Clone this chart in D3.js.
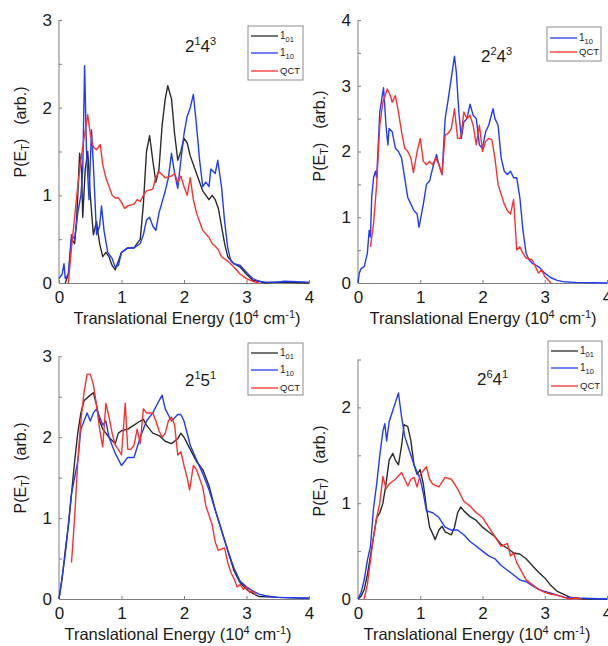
<!DOCTYPE html>
<html lang="en">
<head>
<meta charset="UTF-8">
<script src="https://d3js.org/d3.v7.min.js"></script>
<title>P(ET) spectra</title>
<style>
  body { margin: 0; background: #fff; }
  text { font-family: "Liberation Sans", Arial, Helvetica, sans-serif; fill: #1a1a1a; }
  .axis path, .axis line { stroke: #7f7f7f; }
</style>
</head>
<body>
<svg id="fig" width="608" height="646"></svg>
<script>
// ---- data: [E (10^4 cm-1), P(E)] ----
// panel 2^1 4^3
const a_101 = [[0.1,0],[0.15,0.1],[0.2,0.5],[0.25,0.45],[0.28,0.7],[0.3,1.0],[0.33,1.48],[0.36,1.3],[0.38,0.75],[0.42,1.3],[0.46,1.5],[0.5,1.0],[0.55,0.55],[0.6,0.7],[0.65,0.45],[0.7,0.3],[0.75,0.35],[0.8,0.3],[0.85,0.2],[0.9,0.15],[0.95,0.25],[1.0,0.35],[1.1,0.4],[1.2,0.4],[1.3,0.5],[1.35,0.9],[1.4,1.5],[1.45,1.68],[1.5,1.4],[1.55,1.15],[1.6,1.3],[1.65,1.8],[1.7,2.1],[1.74,2.25],[1.8,2.1],[1.85,1.7],[1.9,1.4],[1.95,1.5],[2.0,1.65],[2.05,1.6],[2.1,1.45],[2.2,1.25],[2.3,1.05],[2.4,0.95],[2.45,1.0],[2.5,0.95],[2.55,0.85],[2.6,0.65],[2.65,0.45],[2.7,0.3],[2.8,0.22],[2.9,0.18],[3.0,0.1],[3.1,0.03],[3.2,0.02],[3.3,0],[3.5,0.01],[4.0,0]];
const a_110 = [[0,0.05],[0.05,0.1],[0.08,0.22],[0.1,0.05],[0.15,0.1],[0.2,0.55],[0.25,0.5],[0.3,0.8],[0.35,1.0],[0.38,1.3],[0.41,2.48],[0.44,1.5],[0.48,0.95],[0.52,1.75],[0.56,1.2],[0.6,0.55],[0.65,0.65],[0.68,0.88],[0.72,0.6],[0.78,0.35],[0.85,0.28],[0.9,0.18],[0.95,0.2],[1.0,0.35],[1.1,0.4],[1.2,0.4],[1.3,0.45],[1.35,0.55],[1.4,0.72],[1.45,0.75],[1.5,0.65],[1.55,0.6],[1.6,0.8],[1.7,1.05],[1.75,1.2],[1.8,1.48],[1.85,1.25],[1.9,1.08],[1.95,1.4],[2.0,1.7],[2.05,1.9],[2.1,2.0],[2.15,2.15],[2.2,1.8],[2.25,1.4],[2.3,1.1],[2.35,1.15],[2.4,1.1],[2.43,1.3],[2.5,1.25],[2.54,1.4],[2.6,1.1],[2.65,0.7],[2.7,0.4],[2.75,0.25],[2.8,0.22],[2.9,0.2],[3.0,0.12],[3.1,0.05],[3.2,0.02],[3.3,0.01],[3.5,0.01],[3.6,0.02],[4.0,0.01]];
const a_qct = [[0.15,0],[0.2,0.4],[0.25,0.75],[0.3,1.1],[0.35,1.4],[0.4,1.65],[0.46,1.92],[0.5,1.7],[0.55,1.55],[0.6,1.52],[0.66,1.58],[0.7,1.35],[0.75,1.2],[0.8,1.1],[0.85,1.0],[0.9,0.97],[0.95,0.97],[1.0,0.92],[1.05,0.85],[1.1,0.88],[1.2,0.9],[1.25,0.95],[1.3,0.93],[1.35,1.0],[1.4,1.05],[1.5,1.07],[1.55,1.2],[1.6,1.27],[1.7,1.2],[1.8,1.22],[1.85,1.25],[1.9,1.15],[1.95,1.22],[2.0,1.1],[2.05,1.0],[2.1,1.2],[2.15,0.95],[2.2,0.8],[2.3,0.6],[2.4,0.52],[2.45,0.45],[2.5,0.42],[2.55,0.38],[2.6,0.3],[2.7,0.25],[2.8,0.18],[2.9,0.1],[3.0,0.05],[3.1,0.02],[3.2,0]];

// panel 2^2 4^3
const b_110 = [[0,0],[0.02,0.15],[0.05,0.22],[0.1,0.25],[0.15,0.45],[0.18,0.8],[0.2,0.7],[0.22,1.3],[0.25,1.6],[0.28,1.7],[0.3,1.6],[0.32,2.0],[0.35,2.6],[0.41,2.97],[0.45,2.4],[0.48,2.1],[0.5,2.35],[0.55,2.3],[0.6,2.05],[0.65,2.0],[0.7,1.9],[0.75,1.6],[0.8,1.3],[0.85,1.2],[0.9,1.1],[0.95,1.05],[0.98,0.85],[1.05,1.2],[1.1,1.5],[1.15,1.55],[1.2,1.75],[1.26,1.95],[1.3,1.8],[1.35,1.65],[1.4,2.5],[1.45,2.8],[1.55,3.45],[1.58,3.2],[1.62,2.6],[1.66,2.2],[1.7,2.45],[1.75,2.5],[1.8,2.72],[1.85,2.55],[1.9,2.5],[1.95,2.1],[2.0,2.05],[2.05,2.3],[2.1,2.4],[2.17,2.65],[2.2,2.5],[2.25,2.4],[2.3,1.9],[2.35,1.7],[2.4,1.65],[2.45,1.7],[2.5,1.6],[2.55,1.6],[2.6,1.3],[2.65,0.8],[2.7,0.45],[2.75,0.35],[2.8,0.3],[2.9,0.25],[3.0,0.15],[3.1,0.08],[3.2,0.04],[3.3,0.02],[3.5,0.01],[4.0,0]];
const b_qct = [[0.2,0.55],[0.25,0.9],[0.3,1.5],[0.35,2.4],[0.4,2.75],[0.47,2.95],[0.52,2.85],[0.55,2.75],[0.6,2.85],[0.65,2.6],[0.7,2.3],[0.75,2.05],[0.8,2.0],[0.85,1.9],[0.89,1.68],[0.95,2.0],[1.0,2.2],[1.05,1.85],[1.1,1.8],[1.15,1.85],[1.2,1.8],[1.25,1.9],[1.3,1.8],[1.35,1.65],[1.4,2.25],[1.45,2.28],[1.5,2.35],[1.55,2.65],[1.6,2.2],[1.65,2.2],[1.7,2.6],[1.75,2.5],[1.8,2.55],[1.85,2.4],[1.9,2.1],[1.95,2.4],[2.0,2.0],[2.05,2.15],[2.1,2.2],[2.15,2.18],[2.2,1.9],[2.25,1.5],[2.3,1.35],[2.35,1.2],[2.4,1.1],[2.45,1.05],[2.5,1.27],[2.55,0.5],[2.6,0.55],[2.65,0.45],[2.7,0.38],[2.8,0.35],[2.85,0.25],[2.9,0.15],[2.95,0.2],[3.0,0.1],[3.1,0]];

// panel 2^1 5^1
const c_101 = [[0,0],[0.05,0.25],[0.1,0.6],[0.15,0.9],[0.2,1.3],[0.25,1.7],[0.3,2.05],[0.35,2.3],[0.4,2.45],[0.5,2.52],[0.55,2.55],[0.6,2.4],[0.65,2.2],[0.7,2.1],[0.8,2.0],[0.9,1.92],[0.95,2.05],[1.0,2.08],[1.1,2.1],[1.2,2.15],[1.3,2.2],[1.35,2.22],[1.4,2.15],[1.5,2.05],[1.6,2.02],[1.7,1.95],[1.8,1.92],[1.9,1.98],[1.95,2.05],[2.0,2.0],[2.1,1.85],[2.2,1.7],[2.3,1.6],[2.4,1.4],[2.5,1.1],[2.6,0.85],[2.7,0.6],[2.8,0.35],[2.9,0.2],[3.0,0.12],[3.1,0.07],[3.2,0.03],[3.5,0.02],[4.0,0.01]];
const c_110 = [[0,0],[0.1,0.55],[0.2,1.3],[0.3,1.7],[0.35,2.1],[0.4,2.2],[0.45,2.3],[0.5,2.2],[0.55,2.3],[0.6,2.35],[0.65,2.25],[0.7,2.15],[0.75,2.2],[0.8,2.0],[0.9,1.8],[1.0,1.65],[1.05,1.7],[1.1,1.75],[1.2,1.75],[1.3,2.0],[1.4,2.2],[1.5,2.3],[1.6,2.45],[1.65,2.52],[1.7,2.35],[1.8,2.2],[1.9,2.28],[1.95,2.28],[2.0,2.2],[2.1,1.9],[2.2,1.72],[2.3,1.55],[2.4,1.35],[2.5,1.1],[2.6,0.85],[2.7,0.6],[2.8,0.38],[2.9,0.22],[3.0,0.15],[3.1,0.1],[3.2,0.06],[3.3,0.04],[3.5,0.02],[4.0,0.01]];
const c_qct = [[0.2,0.45],[0.25,1.0],[0.3,1.7],[0.35,2.2],[0.4,2.55],[0.45,2.78],[0.5,2.78],[0.55,2.65],[0.6,2.4],[0.65,2.1],[0.7,1.88],[0.75,2.42],[0.8,2.25],[0.85,2.05],[0.9,1.9],[0.95,1.85],[1.0,1.78],[1.06,2.42],[1.1,1.85],[1.15,1.85],[1.2,1.9],[1.25,2.1],[1.3,1.92],[1.35,2.35],[1.4,2.3],[1.5,2.3],[1.55,2.2],[1.6,2.08],[1.65,2.0],[1.7,2.05],[1.75,2.2],[1.8,2.25],[1.85,2.15],[1.9,1.78],[1.95,1.82],[2.0,1.65],[2.05,1.5],[2.09,1.35],[2.15,1.65],[2.2,1.6],[2.3,1.38],[2.35,1.15],[2.45,0.92],[2.5,0.7],[2.55,0.6],[2.6,0.62],[2.65,0.63],[2.7,0.45],[2.75,0.33],[2.8,0.25],[2.85,0.15],[2.9,0.18],[2.95,0.12],[3.0,0.15],[3.05,0.08],[3.1,0.1],[3.15,0.05]];

// panel 2^6 4^1
const d_101 = [[0,0],[0.05,0.03],[0.1,0.1],[0.15,0.25],[0.2,0.45],[0.25,0.65],[0.3,0.85],[0.35,0.9],[0.4,1.0],[0.45,1.2],[0.5,1.45],[0.56,1.52],[0.6,1.45],[0.65,1.4],[0.7,1.6],[0.74,1.82],[0.8,1.8],[0.85,1.65],[0.9,1.4],[0.95,1.3],[1.0,1.35],[1.05,1.2],[1.1,0.95],[1.15,0.75],[1.2,0.68],[1.24,0.62],[1.3,0.72],[1.35,0.76],[1.4,0.7],[1.5,0.67],[1.55,0.75],[1.6,0.9],[1.65,0.96],[1.7,0.92],[1.8,0.86],[1.9,0.82],[2.0,0.75],[2.1,0.7],[2.2,0.65],[2.3,0.57],[2.4,0.53],[2.5,0.48],[2.6,0.47],[2.7,0.42],[2.8,0.35],[2.9,0.28],[3.0,0.22],[3.1,0.14],[3.2,0.08],[3.3,0.05],[3.4,0.02],[3.5,0.01],[3.6,0],[4.0,0]];
const d_110 = [[0,0],[0.05,0.07],[0.1,0.2],[0.15,0.4],[0.2,0.55],[0.25,0.95],[0.3,1.2],[0.35,1.5],[0.4,1.75],[0.43,1.83],[0.46,1.65],[0.5,1.85],[0.55,1.95],[0.6,2.05],[0.65,2.15],[0.7,1.9],[0.75,1.7],[0.8,1.6],[0.85,1.5],[0.9,1.4],[1.0,1.25],[1.05,1.1],[1.1,0.92],[1.2,0.9],[1.3,0.85],[1.4,0.75],[1.5,0.72],[1.6,0.72],[1.7,0.67],[1.8,0.6],[1.9,0.55],[2.0,0.5],[2.1,0.45],[2.2,0.42],[2.3,0.35],[2.4,0.3],[2.5,0.25],[2.6,0.2],[2.7,0.18],[2.8,0.14],[2.9,0.1],[3.0,0.08],[3.1,0.06],[3.2,0.04],[3.3,0.02],[3.5,0.01],[4.0,0]];
const d_qct = [[0.1,0],[0.15,0.15],[0.2,0.4],[0.25,0.65],[0.3,0.85],[0.35,1.0],[0.4,1.28],[0.45,1.15],[0.5,1.2],[0.6,1.25],[0.7,1.32],[0.75,1.25],[0.8,1.18],[0.85,1.25],[0.9,1.27],[0.95,1.17],[1.0,1.3],[1.1,1.38],[1.15,1.25],[1.2,1.2],[1.3,1.17],[1.35,1.22],[1.4,1.27],[1.5,1.25],[1.6,1.15],[1.7,1.02],[1.8,0.97],[1.9,0.9],[2.0,0.85],[2.1,0.75],[2.2,0.65],[2.3,0.55],[2.4,0.58],[2.45,0.45],[2.5,0.48],[2.55,0.38],[2.6,0.32],[2.7,0.2],[2.8,0.15],[2.9,0.1],[3.0,0.07],[3.1,0.05],[3.2,0.04],[3.3,0.02],[3.4,0],[3.5,0.01],[3.6,0]];

const xTicks = [0, 1, 2, 3, 4];
const yMax = [3, 4, 3, 2.5];
const titles = [["2","1","4","3"], ["2","2","4","3"], ["2","1","5","1"], ["2","6","4","1"]];
const names = { k: ["1","01"], b: ["1","10"], r: ["QCT",""] };
const colors = { k: "#2b2b2b", b: "#1f3bff", r: "#ff2e2e" };

// ---- layout per panel ----
const panels = [
  { x0: 59,  x1: 309, top: 20,    bot: 283, ymax: yMax[0], title: titles[0], tx: 185, ty: 52,
    series: [["k", a_101], ["b", a_110], ["r", a_qct]], leg: [248, 26, 55, 54], xlab: 187, ylab: 132 },
  { x0: 358, x1: 607, top: 20,    bot: 283, ymax: yMax[1], title: titles[1], tx: 481, ty: 62,
    series: [["b", b_110], ["r", b_qct]], leg: [547, 27, 54, 34], xlab: 483, ylab: 136 },
  { x0: 59,  x1: 309, top: 356.3, bot: 599, ymax: yMax[2], title: titles[2], tx: 185, ty: 386,
    series: [["k", c_101], ["b", c_110], ["r", c_qct]], leg: [248, 343, 55, 52], xlab: 178, ylab: 468 },
  { x0: 358, x1: 607, top: 359.5, bot: 599, ymax: yMax[3], title: titles[3], tx: 477, ty: 385,
    series: [["k", d_101], ["b", d_110], ["r", d_qct]], leg: [548, 341, 54, 54], xlab: 477, ylab: 471 }
];

const svg = d3.select("#fig");

panels.forEach(function (p) {
  const x = d3.scaleLinear().domain([0, 4]).range([p.x0, p.x1]);
  const y = d3.scaleLinear().domain([0, p.ymax]).range([p.bot, p.top]);
  const g = svg.append("g");

  // x axis
  const xa = g.append("g").attr("class", "axis")
    .attr("transform", "translate(0," + p.bot + ")")
    .call(d3.axisBottom(x).tickValues(xTicks).tickSize(-3).tickFormat(d3.format("d")).tickPadding(8));
  xa.selectAll("text").attr("font-size", 17).attr("fill", "#1a1a1a");

  // y axis, ticks every 0.5, labels on integers
  const yt = d3.range(0, p.ymax + 0.01, 0.5);
  const ya = g.append("g").attr("class", "axis")
    .attr("transform", "translate(" + p.x0 + ",0)")
    .call(d3.axisLeft(y).tickValues(yt).tickSize(-3).tickPadding(7)
      .tickFormat(d => Number.isInteger(d) ? d : ""));
  ya.selectAll("text").attr("font-size", 17).attr("fill", "#1a1a1a");
  ya.select(".domain").attr("d", "M0," + p.bot + "V" + p.top);

  // curves
  const line = d3.line().x(d => x(d[0])).y(d => y(d[1]));
  p.series.forEach(function (s) {
    g.append("path")
      .datum(s[1])
      .attr("d", line)
      .attr("fill", "none")
      .attr("stroke", colors[s[0]])
      .attr("stroke-width", 1.4)
      .attr("stroke-linejoin", "round");
  });

  // band label
  const t = g.append("text").attr("x", p.tx).attr("y", p.ty).attr("font-size", 17);
  t.append("tspan").text(p.title[0]);
  t.append("tspan").attr("font-size", 11).attr("dy", -7).text(p.title[1]);
  t.append("tspan").attr("dy", 7).text(p.title[2]);
  t.append("tspan").attr("font-size", 11).attr("dy", -7).text(p.title[3]);

  // legend
  const L = p.leg;
  const lg = g.append("g");
  lg.append("rect").attr("x", L[0]).attr("y", L[1]).attr("width", L[2]).attr("height", L[3])
    .attr("fill", "#fff").attr("stroke", "#8c8c8c").attr("stroke-width", 1);
  const rows = p.series.length === 3 ? [10, 27, 45] : [11, 25];
  p.series.forEach(function (s, i) {
    const yy = L[1] + rows[i];
    lg.append("line").attr("x1", L[0] + 3).attr("x2", L[0] + 30)
      .attr("y1", yy).attr("y2", yy)
      .attr("stroke", colors[s[0]]).attr("stroke-width", 1.3);
    const nm = names[s[0]];
    const tx = lg.append("text").attr("x", L[0] + 32).attr("y", yy + 3).attr("font-size", nm[1] ? 10 : 9.5);
    tx.append("tspan").text(nm[0]);
    if (nm[1]) tx.append("tspan").attr("font-size", 7.5).attr("dy", 3).text(nm[1]);
  });

  // axis labels
  const xl = g.append("text").attr("x", p.xlab).attr("y", p.bot + 41)
    .attr("text-anchor", "middle").attr("font-size", 16.5);
  xl.append("tspan").text("Translational Energy (10");
  xl.append("tspan").attr("font-size", 11).attr("dy", -6).text("4");
  xl.append("tspan").attr("dy", 6).text(" cm");
  xl.append("tspan").attr("font-size", 11).attr("dy", -6).text("-1");
  xl.append("tspan").attr("dy", 6).text(")");

  const yl = g.append("text")
    .attr("transform", "translate(" + (p.x0 - 33) + "," + p.ylab + ") rotate(-90)")
    .attr("text-anchor", "middle").attr("font-size", 16);
  yl.append("tspan").text("P(E");
  yl.append("tspan").attr("font-size", 11).attr("dy", 3).text("T");
  yl.append("tspan").attr("dy", -3).text(")");
  yl.append("tspan").attr("dx", 14).text("(arb.)");
});
</script>
</body>
</html>
